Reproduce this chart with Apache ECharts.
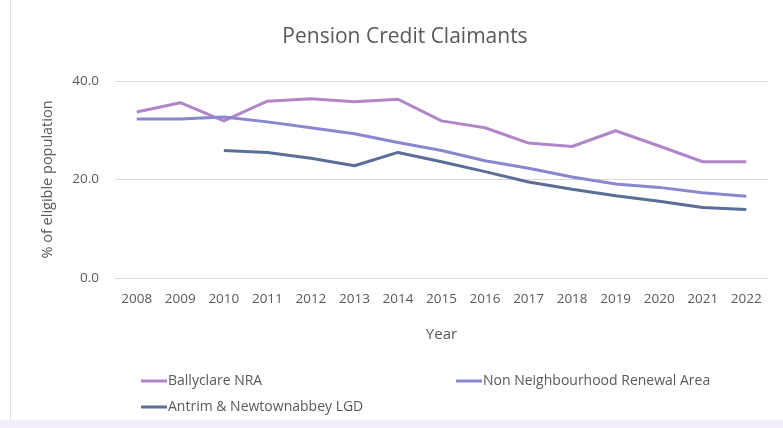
<!DOCTYPE html>
<html>
<head>
<meta charset="utf-8">
<script src="https://cdn.jsdelivr.net/npm/echarts@6/dist/echarts.min.js"></script>
<style>
  html, body { margin: 0; padding: 0; background: #fff; }
  #chart { width: 783px; height: 428px; position: relative; }
  #edge { position: absolute; left: 10px; top: 0; width: 1px; height: 420px; background: #e3e3e3; }
  #band { position: absolute; left: 0; top: 420px; width: 783px; height: 8px; background: #f4eef8; }
</style>
</head>
<body>
<div id="chart"></div>
<div id="edge"></div>
<div id="band"></div>
<script>
const years = ["2008", "2009", "2010", "2011", "2012", "2013", "2014", "2015",
  "2016", "2017", "2018", "2019", "2020", "2021", "2022"];
const ballyclare = [33.7, 35.6, 31.9, 35.9, 36.4, 35.8, 36.3, 31.9, 30.5, 27.4, 26.7, 29.9, 26.8, 23.6, 23.6];
const nonNra = [32.3, 32.3, 32.7, 31.7, 30.5, 29.3, 27.5, 25.9, 23.8, 22.3, 20.5, 19.1, 18.4, 17.3, 16.6];
const lgd = [null, null, 25.9, 25.5, 24.3, 22.8, 25.5, 23.6, 21.6, 19.5, 18.0, 16.7, 15.6, 14.3, 13.9];

const font = "'Open Sans', 'Noto Sans', sans-serif";
const txt = "#595959";

const chart = echarts.init(document.getElementById("chart"));

function line(name, color, data) {
  return {
    name: name,
    type: "line",
    data: data,
    symbol: "none",
    lineStyle: { color: color, width: 3 },
    itemStyle: { color: color },
  };
}

chart.setOption({
  animation: false,
  title: {
    text: "Pension Credit Claimants",
    left: 400,
    top: 22,
    textAlign: "center",
    textStyle: { fontFamily: font, fontSize: 21, fontWeight: "normal", color: txt },
  },
  grid: { left: 115, right: 15, top: 81, bottom: 150 },
  legend: [
    {
      data: ["Ballyclare NRA", "Antrim & Newtownabbey LGD"],
      orient: "vertical",
      left: 136,
      top: 369,
      itemGap: 12,
      itemWidth: 26,
      itemHeight: 3,
      icon: "rect",
      textStyle: { fontFamily: font, fontSize: 14, color: txt, padding: [0, 0, 0, -4] },
    },
    {
      data: ["Non Neighbourhood Renewal Area"],
      left: 451,
      top: 369,
      itemWidth: 26,
      itemHeight: 3,
      icon: "rect",
      textStyle: { fontFamily: font, fontSize: 14, color: txt, padding: [0, 0, 0, -4] },
    },
  ],
  xAxis: {
    type: "category",
    data: years,
    name: "Year",
    nameLocation: "middle",
    nameGap: 49,
    nameTextStyle: { fontFamily: font, fontSize: 15, color: txt },
    axisLine: { lineStyle: { color: "#d9d9d9", width: 1 } },
    axisTick: { show: false },
    axisLabel: { fontFamily: font, fontSize: 13.5, color: txt, margin: 14 },
  },
  yAxis: {
    type: "value",
    min: 0,
    max: 40,
    interval: 20,
    name: "% of eligible population",
    nameLocation: "middle",
    nameGap: 60,
    nameTextStyle: { fontFamily: font, fontSize: 14.5, color: txt },
    axisLine: { show: false },
    axisTick: { show: false },
    axisLabel: {
      fontFamily: font, fontSize: 13.5, color: txt, margin: 16,
      formatter: (v) => v.toFixed(1),
    },
    splitLine: { lineStyle: { color: "#d9d9d9", width: 1 } },
  },
  series: [
    line("Ballyclare NRA", "#b086c9", ballyclare),
    line("Non Neighbourhood Renewal Area", "#8a86cf", nonNra),
    line("Antrim & Newtownabbey LGD", "#5a6e97", lgd),
  ],
});
</script>
</body>
</html>
